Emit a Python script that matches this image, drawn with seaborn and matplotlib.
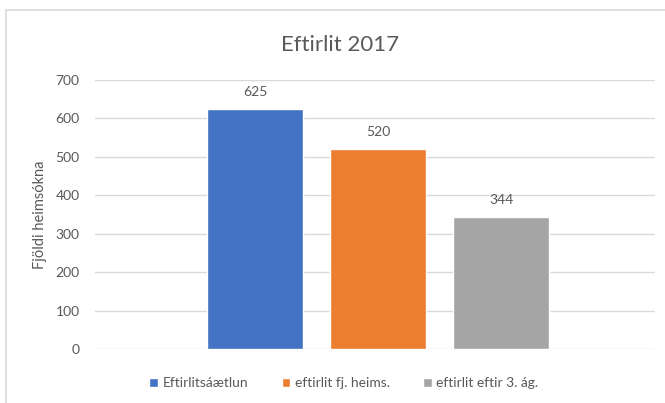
import numpy as np
import pandas as pd
import matplotlib as mpl
import matplotlib.pyplot as plt
import seaborn as sns
from matplotlib.patches import Rectangle

mpl.use("Agg")

# data
flokkar = ["Eftirlitsáætlun", "eftirlit fj. heims.", "eftirlit eftir 3. ág."]
fjoldi = [625, 520, 344]
litir = ["#4472C4", "#ED7D31", "#A5A5A5"]

df = pd.DataFrame({"flokkur": flokkar, "fjoldi": fjoldi})

sns.set_theme(style="white")
plt.rcParams["font.family"] = ["Lato", "DejaVu Sans"]

grey = "#595959"
fig = plt.figure(figsize=(6.65, 4.03), dpi=100)
ax = fig.add_axes([95 / 665, 1 - 349 / 403, 560 / 665, 269 / 403])

sns.barplot(data=df, x="flokkur", y="fjoldi", hue="flokkur", palette=litir,
            width=0.78, saturation=1, ax=ax, legend=True, zorder=3)

for c in ax.containers:
    ax.bar_label(c, padding=8, color=grey, fontsize=10)

ax.set_ylim(0, 700)
ax.set_yticks(np.arange(0, 701, 100))
ax.set_xlim(-1.30, 3.25)
ax.set_xticks([])
ax.set_xlabel("")
ax.set_ylabel("Fjöldi heimsókna", fontsize=10.5, color=grey, labelpad=6)
ax.tick_params(axis="y", colors=grey, labelsize=10, length=0, pad=11)
ax.grid(axis="y", color="#d9d9d9", linewidth=1, zorder=0)
sns.despine(ax=ax, left=True, bottom=True)

fig.suptitle("Eftirlit 2017", x=340 / 665, y=1 - 45 / 403, va="center",
             fontsize=16, color=grey)

sns.move_legend(ax, "center", bbox_to_anchor=((344 - 95) / 560, (349 - 383) / 269),
                ncol=3, frameon=False, title=None, fontsize=10,
                handlelength=0.6, handleheight=0.6, handletextpad=0.35,
                columnspacing=2.4, labelcolor=grey)

# chart area border
fig.patches.append(Rectangle((6 / 665, -0.1), 1.2, 1 - 10 / 403 + 0.1,
                             transform=fig.transFigure, fill=False,
                             edgecolor="#d9d9d9", linewidth=1.2))

fig.savefig("out.png", dpi=100)
